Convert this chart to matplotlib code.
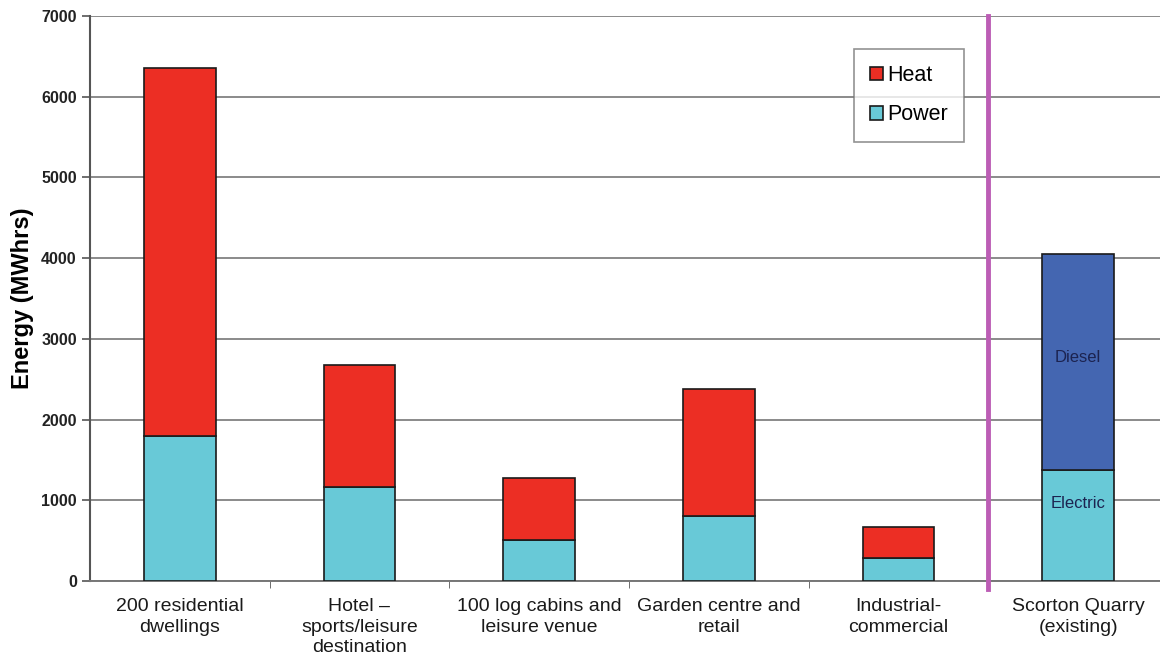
import matplotlib
matplotlib.use("Agg")
import matplotlib.pyplot as plt
import numpy as np

plt.rcParams['font.family'] = ['Liberation Sans', 'DejaVu Sans']

categories = ["200 residential\ndwellings", "Hotel \u2013\nsports/leisure\ndestination",
              "100 log cabins and\nleisure venue", "Garden centre and\nretail",
              "Industrial-\ncommercial", "Scorton Quarry\n(existing)"]
power = [1800, 1165, 510, 810, 280]
heat_total = [6350, 2680, 1280, 2380, 675]
heat = [t - p for t, p in zip(heat_total, power)]
quarry_electric = 1370
quarry_total = 4050
quarry_diesel = quarry_total - quarry_electric
yticks = [0, 1000, 2000, 3000, 4000, 5000, 6000, 7000]

RED = '#EC2E24'
CYAN = '#68C9D7'
BLUE = '#4466B1'
MAGENTA = '#BC5DB5'

fig = plt.figure(figsize=(11.6, 6.61), dpi=100)
ax = fig.add_axes([90/1160, 1 - 581/661, (1168 - 90)/1160, (581 - 16)/661])

x = np.arange(len(categories))
w = 0.4
ax.bar(x[:5], power, width=w, color=CYAN, edgecolor='#1a1a1a', linewidth=1.2, label='Power', zorder=3)
ax.bar(x[:5], heat, bottom=power, width=w, color=RED, edgecolor='#1a1a1a', linewidth=1.2, label='Heat', zorder=3)
ax.bar(x[5], quarry_electric, width=w, color=CYAN, edgecolor='#1a1a1a', linewidth=1.2, zorder=3)
ax.bar(x[5], quarry_diesel, bottom=quarry_electric, width=w, color=BLUE, edgecolor='#1a1a1a', linewidth=1.2, zorder=3)
ax.text(x[5], 2770, "Diesel", ha='center', va='center', fontsize=12, color='#1c2350', zorder=4)
ax.text(x[5], 960, "Electric", ha='center', va='center', fontsize=12, color='#1c2350', zorder=4)

ax.set_xlim(-0.5, len(categories) - 0.5)
ax.set_ylim(0, 7000)
ax.set_yticks(yticks)
ax.set_yticklabels([str(v) for v in yticks], fontsize=11.5, fontweight='bold', color='#222222')
ax.yaxis.grid(True, color='#8a8a8a', linewidth=1.4, zorder=0)
ax.set_axisbelow(True)

ax.set_xticks(x)
ax.set_xticklabels(categories, fontsize=14, color='#1a1a1a', linespacing=1.3)
ax.tick_params(axis='x', which='major', length=0, pad=12)
ax.set_xticks(np.arange(0.5, len(categories) - 0.5, 1.0), minor=True)
ax.tick_params(axis='x', which='minor', length=5, color='#555555')
ax.tick_params(axis='y', length=6, color='#555555', width=1.2)

for s in ['top', 'right']:
    ax.spines[s].set_visible(False)
ax.spines['left'].set_color('#555555')
ax.spines['left'].set_linewidth(1.5)
ax.spines['bottom'].set_color('#777777')
ax.spines['bottom'].set_linewidth(1.4)

ax.set_ylabel("Energy (MWhrs)", fontsize=17, fontweight='bold', labelpad=5)

ax.axvline(4.5, ymin=-0.015, ymax=1, color=MAGENTA, linewidth=3.5, zorder=5, clip_on=False)

handles, labels = ax.get_legend_handles_labels()
leg = fig.legend(handles[::-1], labels[::-1], loc='upper left', bbox_to_anchor=(854/1160, 1 - 49/661),
                 frameon=True, fancybox=False, edgecolor='#777777', fontsize=15.5,
                 handlelength=0.6, handleheight=0.6, handletextpad=0.2, labelspacing=0.85,
                 borderpad=0.75, borderaxespad=0)
leg.get_frame().set_linewidth(1.2)

fig.savefig("out.png", dpi=100)
